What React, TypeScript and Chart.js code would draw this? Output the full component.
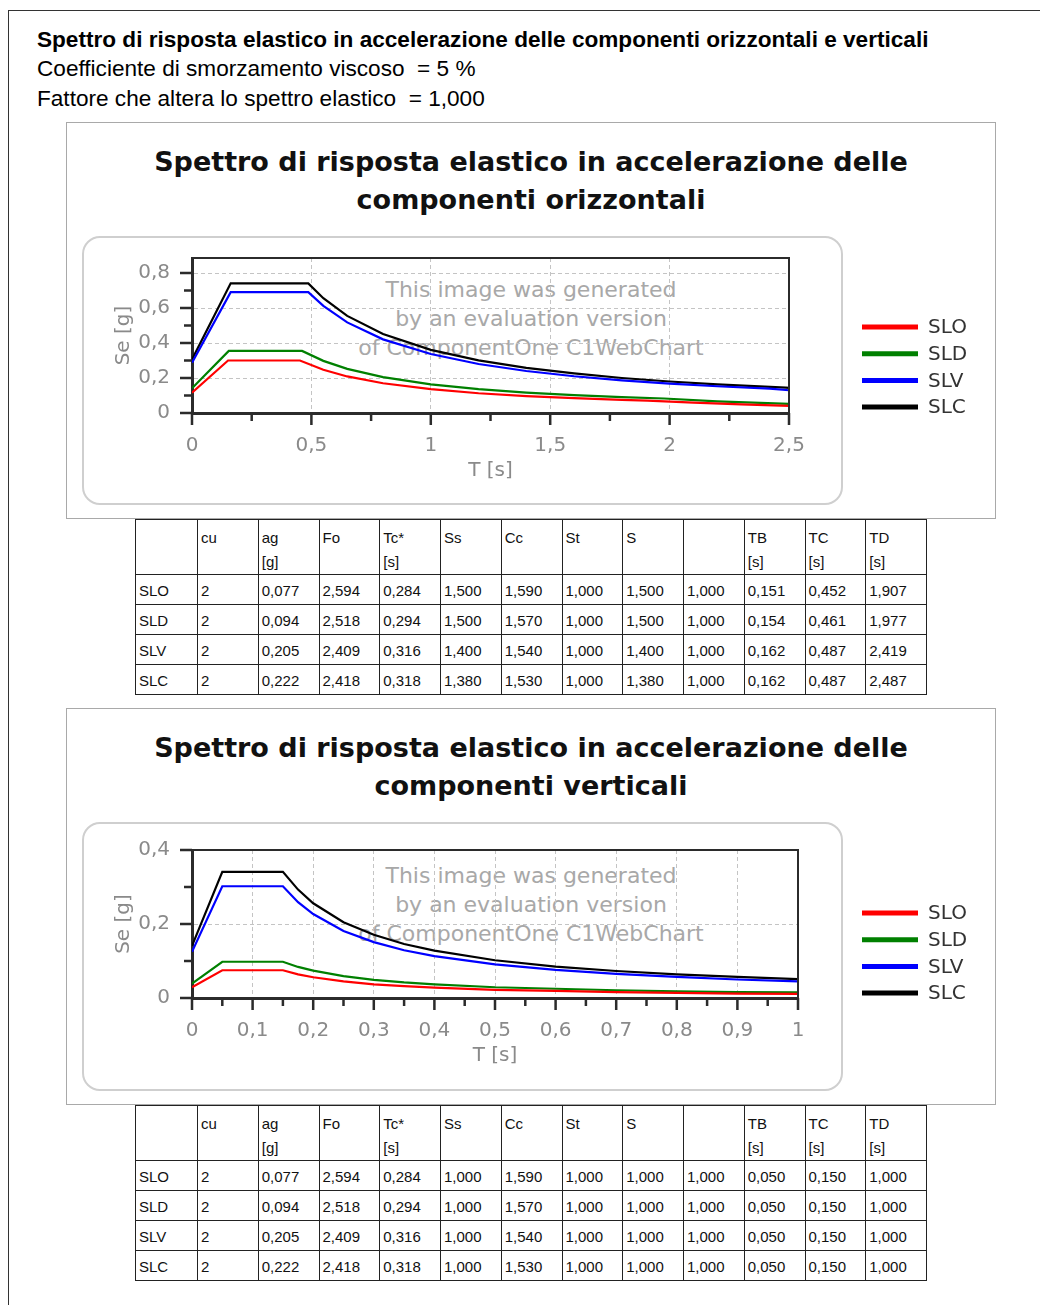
import React, { useEffect, useRef } from 'react';
import { Chart, registerables } from 'chart.js';

Chart.register(...registerables);
Chart.defaults.font.family = '"DejaVu Sans", sans-serif';

const seriesNames = ['SLO', 'SLD', 'SLV', 'SLC'];
const seriesColors = ['#ff0000', '#008000', '#0000ff', '#000000'];

// Horizontal components: T [s] and Se [g]
const tSLO_H = [0, 0.151, 0.452, 0.55, 0.65, 0.8, 1.0, 1.2, 1.4, 1.6, 1.8, 1.907, 2.1, 2.3, 2.5];
const seSLO_H = [0.116, 0.3, 0.3, 0.247, 0.209, 0.17, 0.136, 0.113, 0.097, 0.085, 0.075, 0.071, 0.059, 0.049, 0.041];
const tSLD_H = [0, 0.154, 0.461, 0.55, 0.65, 0.8, 1.0, 1.2, 1.4, 1.6, 1.8, 1.977, 2.2, 2.5];
const seSLD_H = [0.141, 0.355, 0.355, 0.298, 0.252, 0.205, 0.164, 0.136, 0.117, 0.102, 0.091, 0.083, 0.067, 0.052];
const tSLV_H = [0, 0.162, 0.487, 0.55, 0.65, 0.8, 1.0, 1.2, 1.4, 1.6, 1.8, 2.0, 2.2, 2.419, 2.5];
const seSLV_H = [0.287, 0.691, 0.691, 0.612, 0.518, 0.421, 0.337, 0.28, 0.24, 0.21, 0.187, 0.168, 0.153, 0.139, 0.13];
const tSLC_H = [0, 0.162, 0.487, 0.55, 0.65, 0.8, 1.0, 1.2, 1.4, 1.6, 1.8, 2.0, 2.2, 2.487, 2.5];
const seSLC_H = [0.306, 0.741, 0.741, 0.656, 0.555, 0.451, 0.361, 0.301, 0.258, 0.226, 0.2, 0.18, 0.164, 0.145, 0.144];

// Vertical components: T [s] and Se [g]
const tV = [0, 0.05, 0.15, 0.175, 0.2, 0.25, 0.3, 0.35, 0.4, 0.5, 0.6, 0.7, 0.8, 0.9, 1.0];
const seSLO_V = [0.029, 0.075, 0.075, 0.064, 0.056, 0.045, 0.037, 0.032, 0.028, 0.022, 0.019, 0.016, 0.014, 0.012, 0.011];
const seSLD_V = [0.039, 0.098, 0.098, 0.084, 0.074, 0.059, 0.049, 0.042, 0.037, 0.029, 0.025, 0.021, 0.018, 0.016, 0.015];
const seSLV_V = [0.125, 0.302, 0.302, 0.259, 0.227, 0.181, 0.151, 0.129, 0.113, 0.091, 0.076, 0.065, 0.057, 0.05, 0.045];
const seSLC_V = [0.141, 0.341, 0.341, 0.293, 0.256, 0.205, 0.171, 0.146, 0.128, 0.102, 0.085, 0.073, 0.064, 0.057, 0.051];

// Table data
const tableHeaders = ['', 'cu', 'ag\n[g]', 'Fo', 'Tc*\n[s]', 'Ss', 'Cc', 'St', 'S', '', 'TB\n[s]', 'TC\n[s]', 'TD\n[s]'];
const cuVals = ['2', '2', '2', '2'];
const agVals = ['0,077', '0,094', '0,205', '0,222'];
const foVals = ['2,594', '2,518', '2,409', '2,418'];
const tcStarVals = ['0,284', '0,294', '0,316', '0,318'];
const ccVals = ['1,590', '1,570', '1,540', '1,530'];
const stVals = ['1,000', '1,000', '1,000', '1,000'];
const etaVals = ['1,000', '1,000', '1,000', '1,000'];
const ssH = ['1,500', '1,500', '1,400', '1,380'];
const sH = ['1,500', '1,500', '1,400', '1,380'];
const tbH = ['0,151', '0,154', '0,162', '0,162'];
const tcH = ['0,452', '0,461', '0,487', '0,487'];
const tdH = ['1,907', '1,977', '2,419', '2,487'];
const ssV = ['1,000', '1,000', '1,000', '1,000'];
const sV = ['1,000', '1,000', '1,000', '1,000'];
const tbV = ['0,050', '0,050', '0,050', '0,050'];
const tcV = ['0,150', '0,150', '0,150', '0,150'];
const tdV = ['1,000', '1,000', '1,000', '1,000'];

const watermarkLines = ['This image was generated', 'by an evaluation version', 'of ComponentOne C1WebChart'];

const decorPlugin = {
  id: 'decor',
  afterDraw(chart: any, _args: any, o: any) {
    const { ctx, chartArea: a } = chart;
    const x = chart.scales.x;
    const y = chart.scales.y;
    ctx.save();
    ctx.strokeStyle = '#2b2b2b';
    ctx.lineWidth = 2;
    ctx.beginPath();
    ctx.moveTo(a.left, a.top);
    ctx.lineTo(a.right, a.top);
    ctx.lineTo(a.right, a.bottom);
    ctx.stroke();
    ctx.lineWidth = 2.5;
    ctx.beginPath();
    for (let i = 0; i * o.yMinor <= y.max + 1e-9; i++) {
      const py = y.getPixelForValue(i * o.yMinor);
      const len = i % o.yEvery === 0 ? 12 : 8;
      ctx.moveTo(a.left, py);
      ctx.lineTo(a.left - len, py);
    }
    for (let i = 0; i * o.xMinor <= x.max + 1e-9; i++) {
      const px = x.getPixelForValue(i * o.xMinor);
      const len = i % o.xEvery === 0 ? 12 : 8;
      ctx.moveTo(px, a.bottom);
      ctx.lineTo(px, a.bottom + len);
    }
    ctx.stroke();
    ctx.font = '20px "DejaVu Sans"';
    ctx.textBaseline = 'middle';
    ctx.textAlign = 'left';
    ctx.fillStyle = '#333';
    chart.data.datasets.forEach((ds: any, i: number) => {
      const ly = o.legendY + i * o.legendGap;
      ctx.strokeStyle = ds.borderColor;
      ctx.lineWidth = 5;
      ctx.beginPath();
      ctx.moveTo(o.legendX, ly);
      ctx.lineTo(o.legendX + 56, ly);
      ctx.stroke();
      ctx.fillText(ds.label, o.legendX + 66, ly + 1);
    });
    ctx.restore();
  },
};

type AxisCfg = { max: number; step: number; minor: number; every: number };

const fmt = (v: number) => String(Math.round(v * 100) / 100).replace('.', ',');
const gridColor = (c: any) => (c.tick && Math.abs(c.tick.value) < 1e-9 ? 'rgba(0,0,0,0)' : '#c4c4c4');

function buildConfig(ts: number[][], ses: number[][], xa: AxisCfg, ya: AxisCfg, pad: any): any {
  return {
    type: 'scatter',
    data: {
      datasets: seriesNames.map((name, i) => ({
        label: name,
        data: ts[i].map((t, j) => ({ x: t, y: ses[i][j] })),
        showLine: true,
        borderColor: seriesColors[i],
        backgroundColor: seriesColors[i],
        borderWidth: 2.2,
        pointRadius: 0,
        tension: 0,
        fill: false,
      })),
    },
    options: {
      animation: false,
      responsive: true,
      maintainAspectRatio: false,
      events: [],
      layout: { padding: pad },
      plugins: {
        legend: { display: false },
        tooltip: { enabled: false },
        decor: { xMinor: xa.minor, xEvery: xa.every, yMinor: ya.minor, yEvery: ya.every, legendX: 796, legendY: 205, legendGap: 26.7 },
      },
      scales: {
        x: {
          type: 'linear',
          bounds: 'data',
          min: 0,
          max: xa.max,
          afterFit: (s: any) => { s.height = 70; },
          ticks: {
            stepSize: xa.step, includeBounds: false, autoSkip: false, maxRotation: 0, maxTicksLimit: 50,
            padding: 21, color: '#8a8a8a', font: { size: 20 }, callback: (v: any) => fmt(Number(v)),
          },
          grid: { drawTicks: false, color: gridColor, lineWidth: 1 },
          border: { display: true, color: '#2b2b2b', width: 3, dash: [4, 3] },
          title: { display: true, text: 'T [s]', color: '#8a8a8a', font: { size: 20 }, padding: 0 },
        },
        y: {
          type: 'linear',
          bounds: 'data',
          min: 0,
          max: ya.max,
          afterFit: (s: any) => { s.width = 80; },
          ticks: {
            stepSize: ya.step, includeBounds: false, autoSkip: false, maxTicksLimit: 50,
            padding: 22, color: '#8a8a8a', font: { size: 20 }, callback: (v: any) => fmt(Number(v)),
          },
          grid: { drawTicks: false, color: gridColor, lineWidth: 1 },
          border: { display: true, color: '#2b2b2b', width: 3, dash: [4, 3] },
          title: { display: true, text: 'Se [g]', color: '#8a8a8a', font: { size: 20 }, padding: 0 },
        },
      },
    },
    plugins: [decorPlugin],
  };
}

function ChartPanel({ top, titleLines, config }: { top: number; titleLines: string[]; config: any }) {
  const ref = useRef<HTMLCanvasElement>(null);
  useEffect(() => {
    const chart = new Chart(ref.current as HTMLCanvasElement, config);
    return () => chart.destroy();
  }, []);
  return (
    <>
      <div style={{ position: 'absolute', left: 66, top, width: 930, height: 397, border: '1px solid #a9a9a9', boxSizing: 'border-box' }} />
      <div style={{ position: 'absolute', left: 82, top: top + 114, width: 761, height: 269, border: '2px solid #cfcfcf', borderRadius: 18, boxSizing: 'border-box' }} />
      <div style={{ position: 'absolute', left: 66, top: top + 21, width: 930, textAlign: 'center', fontFamily: '"DejaVu Sans", sans-serif', fontWeight: 'bold', fontSize: 27, lineHeight: '38px', color: '#111' }}>
        {titleLines.map((l, i) => <div key={i}>{l}</div>)}
      </div>
      <div style={{ position: 'absolute', left: 66, top: top + 153, width: 930, textAlign: 'center', fontFamily: '"DejaVu Sans", sans-serif', fontSize: 22, lineHeight: '29px', color: '#a8a8a8' }}>
        {watermarkLines.map((l, i) => <div key={i}>{l}</div>)}
      </div>
      <div style={{ position: 'absolute', left: 66, top, width: 930, height: 397 }}>
        <canvas ref={ref} />
      </div>
    </>
  );
}

function DataTable({ top, ss, s, tb, tc, td }: { top: number; ss: string[]; s: string[]; tb: string[]; tc: string[]; td: string[] }) {
  const rows = seriesNames.map((n, i) => [n, cuVals[i], agVals[i], foVals[i], tcStarVals[i], ss[i], ccVals[i], stVals[i], s[i], etaVals[i], tb[i], tc[i], td[i]]);
  const cell: React.CSSProperties = { border: '1.5px solid #222', padding: '0 0 0 3px', whiteSpace: 'nowrap', overflow: 'hidden', verticalAlign: 'top' };
  return (
    <table style={{ position: 'absolute', left: 135, top, width: 791, borderCollapse: 'collapse', tableLayout: 'fixed', fontFamily: '"Liberation Sans", Arial, sans-serif', fontSize: 15, color: '#111' }}>
      <colgroup>
        {tableHeaders.map((_, i) => <col key={i} style={{ width: i === 0 ? 62 : 60.75 }} />)}
      </colgroup>
      <tbody>
        <tr style={{ height: 52 }}>
          {tableHeaders.map((h, i) => (
            <td key={i} style={{ ...cell, paddingTop: 6, lineHeight: '24px' }}>
              {h.split('\n').map((p, k) => <div key={k}>{p}</div>)}
            </td>
          ))}
        </tr>
        {rows.map((r, ri) => (
          <tr key={ri} style={{ height: 30 }}>
            {r.map((v, ci) => <td key={ci} style={{ ...cell, paddingTop: 7, lineHeight: '18px' }}>{v}</td>)}
          </tr>
        ))}
      </tbody>
    </table>
  );
}

const configH = buildConfig(
  [tSLO_H, tSLD_H, tSLV_H, tSLC_H],
  [seSLO_H, seSLD_H, seSLV_H, seSLC_H],
  { max: 2.5, step: 0.5, minor: 0.25, every: 2 },
  { max: 0.886, step: 0.2, minor: 0.1, every: 2 },
  { left: 46, right: 207, top: 136, bottom: 36 },
);

const configV = buildConfig(
  [tV, tV, tV, tV],
  [seSLO_V, seSLD_V, seSLV_V, seSLC_V],
  { max: 1, step: 0.1, minor: 0.05, every: 2 },
  { max: 0.4, step: 0.2, minor: 0.1, every: 2 },
  { left: 46, right: 198, top: 142, bottom: 37 },
);

export default function App() {
  const textBase: React.CSSProperties = { position: 'absolute', left: 37, fontSize: 22.6, lineHeight: '30px', whiteSpace: 'pre', color: '#000' };
  return (
    <div style={{ position: 'absolute', left: 0, top: 0, width: 1040, height: 1305, background: '#fff', fontFamily: '"Liberation Sans", Arial, sans-serif', overflow: 'hidden' }}>
      <div style={{ position: 'absolute', left: 8, top: 10, width: 1040, height: 1300, borderTop: '1.5px solid #333', borderLeft: '1.5px solid #333' }} />
      <div style={{ ...textBase, top: 25, fontWeight: 'bold' }}>Spettro di risposta elastico in accelerazione delle componenti orizzontali e verticali</div>
      <div style={{ ...textBase, top: 54 }}>Coefficiente di smorzamento viscoso  = 5 %</div>
      <div style={{ ...textBase, top: 84 }}>Fattore che altera lo spettro elastico  = 1,000</div>
      <ChartPanel top={122} titleLines={['Spettro di risposta elastico in accelerazione delle', 'componenti orizzontali']} config={configH} />
      <DataTable top={519} ss={ssH} s={sH} tb={tbH} tc={tcH} td={tdH} />
      <ChartPanel top={708} titleLines={['Spettro di risposta elastico in accelerazione delle', 'componenti verticali']} config={configV} />
      <DataTable top={1105} ss={ssV} s={sV} tb={tbV} tc={tcV} td={tdV} />
    </div>
  );
}
